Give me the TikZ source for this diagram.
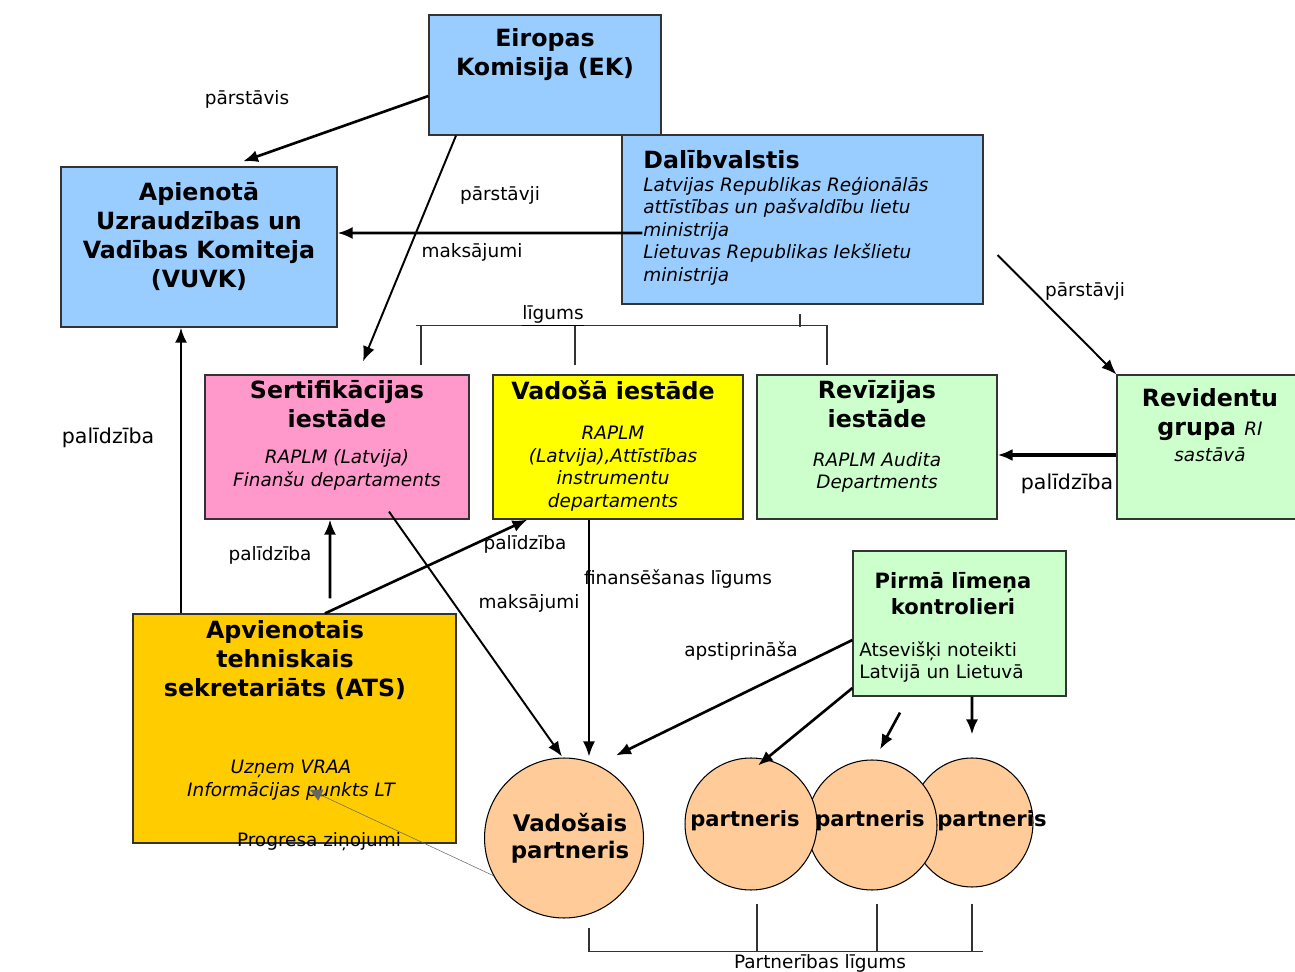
\documentclass[tikz,border=0pt]{standalone}
\usepackage{fontspec}
\setmainfont{DejaVu Sans}
\usetikzlibrary{calc,shapes.geometric,arrows.meta}

\definecolor{skyb}{HTML}{99CCFF}
\definecolor{pinkb}{HTML}{FF99CC}
\definecolor{yelb}{HTML}{FFFF00}
\definecolor{grnb}{HTML}{CCFFCC}
\definecolor{orab}{HTML}{FFCC00}
\definecolor{peach}{HTML}{FFCC99}

\tikzset{
  box/.style={rectangle,draw=black!80,line width=0.7pt,inner sep=0pt},
  blob/.style={ellipse,draw=black,line width=0.6pt,fill=peach,inner sep=0pt},
  hd/.style={inner sep=0pt,align=center,font=\fontsize{13.5}{16.5}\selectfont\bfseries},
  hdsmall/.style={inner sep=0pt,align=center,font=\fontsize{12}{14.8}\selectfont\bfseries},
  ittxt/.style={inner sep=0pt,align=center,font=\fontsize{10.5}{12.8}\selectfont\itshape},
  lab/.style={inner sep=0pt,font=\fontsize{10.5}{12.5}\selectfont},
  biglab/.style={inner sep=0pt,font=\fontsize{11.7}{14}\selectfont},
  arr/.style={-{Latex[length=3mm,width=2.4mm]},line width=1.5pt},
  thinarr/.style={-{Latex[length=3mm,width=2.4mm]},line width=1.1pt},
  brk/.style={line width=0.6pt,black!80}
}

\begin{document}
\begin{tikzpicture}[x=0.02cm,y=-0.02cm]
\useasboundingbox (0,0) rectangle (1295,972);

% boxes
\node (ek) at (545,75) [box,fill=skyb,minimum width=4.64cm,minimum height=2.4cm] {};
\node (vuvk) at (199,247) [box,fill=skyb,minimum width=5.52cm,minimum height=3.2cm] {};
\node (dal) at (802.5,219.5) [box,fill=skyb,minimum width=7.22cm,minimum height=3.38cm] {};
\node (sert) at (337,447) [box,fill=pinkb,minimum width=5.28cm,minimum height=2.88cm] {};
\node (vad) at (618,447) [box,fill=yelb,minimum width=5cm,minimum height=2.88cm] {};
\node (rev) at (877,447) [box,fill=grnb,minimum width=4.8cm,minimum height=2.88cm] {};
\node (revg) at (1211,447) [box,fill=grnb,minimum width=3.76cm,minimum height=2.88cm] {};
\node (pk) at (959.5,623.5) [box,fill=grnb,minimum width=4.26cm,minimum height=2.9cm] {};
\node (ats) at (294.5,728.5) [box,fill=orab,minimum width=6.46cm,minimum height=4.58cm] {};

% partners
\node (vp) at (564,838) [blob,minimum width=3.18cm,minimum height=3.2cm] {};
\node (p3) at (972,822.5) [blob,minimum width=2.44cm,minimum height=2.58cm] {};
\node (p2) at (872,825) [blob,minimum width=2.6cm,minimum height=2.6cm] {};
\node (p1) at (751,824) [blob,minimum width=2.64cm,minimum height=2.64cm] {};
\node (vpt) at (570,838) [hd,font=\fontsize{13}{15.5}\selectfont\bfseries] {Vadošais\\partneris};
\node (p1t) at (745,821) [hdsmall] {partneris};
\node (p2t) at (870,821) [hdsmall] {partneris};
\node (p3t) at (992,821) [hdsmall] {partneris};

% box texts
\node (ekt) at (545,55) [hd] {Eiropas\\Komisija (EK)};
\node (vuvkt) at (199,237) [hd] {Apienotā\\Uzraudzības un\\Vadības Komiteja\\(VUVK)};
\node (dalt) at (643,160) [hd,anchor=west] {Dalībvalstis};
\node (dals) at (643,231) [ittxt,anchor=west,align=left] {Latvijas Republikas Reģionālās\\attīstības un pašvaldību lietu\\ministrija\\Lietuvas Republikas Iekšlietu\\ministrija};
\node (sertt) at (337,404.5) [hd] {Sertifikācijas\\iestāde};
\node (serts) at (337,470) [ittxt] {RAPLM (Latvija)\\Finanšu departaments};
\node (vadt) at (613,390) [hd] {Vadošā iestāde};
\node (vads) at (613,468.5) [ittxt] {RAPLM\\(Latvija),Attīstības\\instrumentu\\departaments};
\node (revt) at (877,404.5) [hd] {Revīzijas\\iestāde};
\node (revs) at (877,472.5) [ittxt] {RAPLM Audita\\Departments};
\node (revgt) at (1210,415) [hd] {Revidentu\\grupa {\fontsize{10.5}{12}\selectfont\mdseries\itshape RI}};
\node (revgs) at (1210,455) [ittxt] {sastāvā};
\node (pkt) at (953,594) [hdsmall] {Pirmā līmeņa\\kontrolieri};
\node (pks) at (859,662) [lab,anchor=west,align=left] {Atsevišķi noteikti\\Latvijā un Lietuvā};
\node (atst) at (285,660) [hd] {Apvienotais\\tehniskais\\sekretariāts (ATS)};
\node (atss) at (291,780) [ittxt] {Uzņem VRAA\\Informācijas punkts LT};

% contracts
\draw[brk] ($(sert.north)+(84,-9)$) |- ($(rev.north)+(-50,-49)$) -- ($(rev.north)+(-50,-9)$);
\draw[brk] ($(sert.north)+(84,-49)$) -- ++(-5,0);
\draw[brk] ($(vad.north)+(-43,-9)$) -- ++(0,-40);
\draw[brk] ($(dal.south)+(-2.5,9)$) -- ++(0,13);
\draw[brk] ($(vp.south)+(25,9)$) |- ($(p3.south)+(11,64)$);
\draw[brk] ($(p1.south)+(6,13)$) -- ++(0,48);
\draw[brk] ($(p2.south)+(5,13)$) -- ++(0,48);
\draw[brk] ($(p3.south)+(0,16)$) -- ++(0,48);

% arrows
\draw[arr] ($(ek.west)+(0,21)$) -- ($(vuvk.north)+(44,-5)$);
\draw[thinarr] ($(ek.south)+(-89,0)$) -- ($(sert.north)+(26,-13)$);
\draw[arr] ($(dal.west)+(21,13.5)$) -- ($(vuvk.east)+(0,-14)$);
\draw[thinarr] ($(dal.east)+(14,35.5)$) -- (revg.north west);
\draw[arr,line width=2pt] ($(revg.west)+(0,8)$) -- ($(rev.east)+(0,8)$);
\draw[arr] ($(ats.north)+(-113.5,0)$) -- ($(vuvk.south)+(-18,0)$);
\draw[arr] ($(ats.north)+(35.5,-15)$) -- ($(sert.south)+(-7,0)$);
\draw[arr] ($(ats.north)+(30.5,0)$) -- ($(vad.south west)+(35,0)$);
\draw[thinarr] ($(sert.south)+(52,-8)$) -- ($(vp.north)+(-2,-1)$);
\draw[thinarr] ($(vad.south)+(-29,0)$) -- ($(vp.north)+(25,-1)$);
\draw[arr] ($(pk.west)+(0,16.5)$) -- ($(vp.north)+(52,-2)$);
\draw[arr] ($(pk.west)+(0,64.5)$) -- ($(p1.north)+(7,8)$);
\draw[arr] ($(pk.south)+(-59.5,16)$) -- ($(p2.north)+(8,-10)$);
\draw[arr] ($(pk.south)+(12.5,0)$) -- ($(p3.north)+(0,-23)$);
\draw[-{Triangle[length=2.4mm,width=2.4mm]},line width=0.3pt,black!60] (vp.208) -- ($(ats.center)+(15.5,61.5)$);

% labels
\node (l1) at (247,99) [lab] {pārstāvis};
\node (l2) at (500,195) [lab] {pārstāvji};
\node (l3) at (472,252) [lab] {maksājumi};
\node (l4) at (1085,291) [lab] {pārstāvji};
\node (l5) at (108,438) [biglab] {palīdzība};
\node (l6) at (270,555) [lab] {palīdzība};
\node (l7) at (525,544) [lab] {palīdzība};
\node (l8) at (529,603) [lab] {maksājumi};
\node (l9) at (678,579) [lab] {finansēšanas līgums};
\node (l10) at (741,651) [lab] {apstiprināša};
\node (l11) at (1067,484) [biglab] {palīdzība};
\node (l12) at (319,842) [lab] {Progresa ziņojumi};
\node (l13) at (553,316) [lab] {\underline{līgums}};
\node (l14) at (820,963) [lab] {Partnerības līgums};

\end{tikzpicture}
\end{document}
